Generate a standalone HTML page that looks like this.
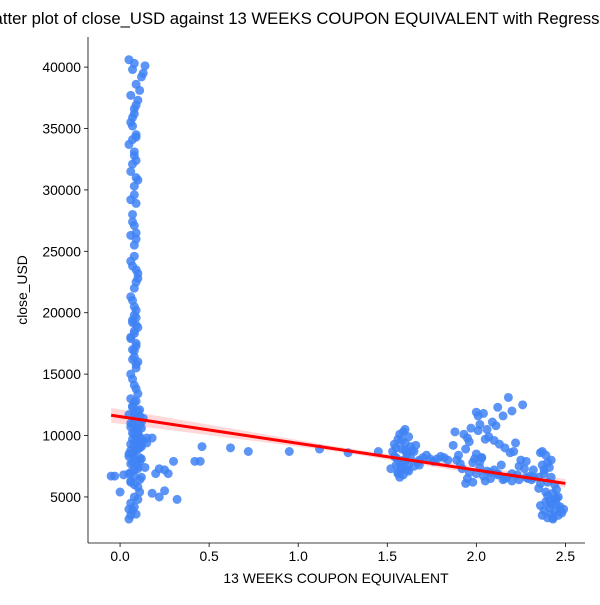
<!DOCTYPE html>
<html><head><meta charset="utf-8"><style>
body{margin:0;background:#fff}
svg text{font-family:"Liberation Sans","DejaVu Sans",sans-serif;fill:#000}
</style></head><body>
<svg id="chart" width="600" height="600" viewBox="0 0 600 600" xmlns="http://www.w3.org/2000/svg">
<rect width="600" height="600" fill="#fff"/>
<text x="316" y="24" font-size="16.7" text-anchor="middle">Scatter plot of close_USD against 13 WEEKS COUPON EQUIVALENT with Regression Line</text>
<g id="band"></g>
<g id="points"></g>
<g id="reg"></g>
<g id="axes"></g>
<text x="336" y="583" font-size="13.9" text-anchor="middle">13 WEEKS COUPON EQUIVALENT</text>
<text transform="translate(27,290) rotate(-90)" font-size="13.9" text-anchor="middle">close_USD</text>
</svg>
<script>
const xTicks=[0,0.5,1,1.5,2,2.5];
const xTickLabels=["0.0","0.5","1.0","1.5","2.0","2.5"];
const yTicks=[5000,10000,15000,20000,25000,30000,35000,40000];
const yTickLabels=["5000","10000","15000","20000","25000","30000","35000","40000"];
const regStart=[-0.05,11650];
const regEnd=[2.5,6100];
const bandHalfStart=600, bandHalfMid=200, bandHalfEnd=350;
const colX=[0.05,0.06,0.07,0.08,0.09,0.1,0.11,0.12,0.06,0.08,0.1,0.07,0.09,0.11,0.05,0.08,0.1,0.12,0.06,0.09,0.07,0.11,0.08,0.1,0.09,0.06,0.07,0.12,0.08,0.1,0.05,0.09,0.11,0.07,0.08,0.06,0.1,0.09,0.08,0.07,0.06,0.09,0.1,0.08,0.07,0.09,0.06,0.08,0.1,0.07,0.09,0.08,0.06,0.1,0.09,0.07,0.08,0.06,0.09,0.08,0.07,0.09,0.06,0.08,0.1,0.07,0.09,0.08,0.05,0.06,0.07,0.08,0.09,0.1,0.11,0.12,0.13,0.14,0.05,0.07,0.09,0.11,0.13,0.15,0.06,0.08,0.1,0.12,0.14,0.05,0.07,0.09,0.11,0.13,0.06,0.08,0.1,0.12,0.07,0.09,0.11,0.06,0.08,0.1,
0.09,0.07,0.08,0.09,0.06,0.08,0.09,0.07,0.08,0.09,0.07,0.08,0.09,0.1,0.06,0.08,0.09,0.07,0.08,0.09,0.06,0.08,0.09,0.07,0.08,0.06,0.09,0.07,0.08,0.05,0.06,0.08,0.1,0.12,0.07,0.09,0.11,0.06,0.08,0.1,0.05,0.07,0.09,0.11,0.06];
const colY=[3200,3500,3900,4200,3600,4800,6400,6600,7000,7200,7500,7800,8000,8200,8500,8700,8900,9100,9300,9500,9700,9900,10100,10300,10500,10700,10900,11100,11300,11500,11700,11900,12100,12400,12700,13000,13400,13800,14100,14600,15000,15500,16000,16400,17000,17500,17900,18300,18800,19200,19600,20500,21300,22800,23500,23800,24600,26300,26500,27100,27400,28900,29200,30300,30800,32100,32400,33100,33700,35500,35900,36600,36900,37300,38100,39200,39500,40100,40600,34100,34300,11600,9600,9400,8800,9200,10000,10600,7400,6900,8400,9800,10800,11400,7700,6700,9000,8100,12300,12800,5400,6200,6000,7300,
15800,16200,16900,17300,18000,18500,19000,19400,19800,20200,21000,22000,22500,23200,24200,25500,26000,28000,29600,31000,31500,32800,34500,35200,36200,37700,38600,39800,40300,4000,4500,5000,5800,9300,10200,10600,9000,11000,11800,12000,8300,8600,9500,7900,6300];
const sparseX=[-0.05,-0.03,0.0,0.02,0.15,0.18,0.18,0.2,0.22,0.22,0.25,0.25,0.27,0.3,0.32,0.42,0.45,0.46,0.62,0.72,0.95,1.12,1.28,1.45];
const sparseY=[6700,6700,5400,6800,9800,9800,5300,6900,7300,5000,5500,7200,6900,7900,4800,7900,7900,9100,9000,8700,8700,8900,8600,8700];
const c1X=[1.52,1.53,1.54,1.55,1.55,1.56,1.56,1.57,1.57,1.58,1.58,1.59,1.59,1.6,1.6,1.61,1.61,1.62,1.62,1.63,1.64,1.65,1.66,1.67,1.68,1.7,1.72,1.74,1.76,1.78,1.8,1.82,1.84,1.55,1.57,1.59,1.61,1.63,1.56,1.58,1.6,1.54,1.62,1.58,1.6,1.65,1.68];
const c1Y=[7300,8700,9300,7600,8200,9700,7000,10100,6600,8900,7400,10300,6800,9400,7900,8500,7200,9900,7600,8200,8800,7500,9200,7800,8000,8200,8400,8100,7900,8100,8300,8200,8000,9000,7700,8000,8600,9100,6900,9600,10500,8300,7100,7200,8800,8700,7600];
const c2X=[1.87,1.88,1.9,1.92,1.93,1.94,1.95,1.95,1.96,1.97,1.98,1.99,2.0,2.0,2.01,2.02,2.02,2.03,2.04,2.05,2.06,2.06,2.07,2.08,2.09,2.1,2.1,2.11,2.12,2.12,2.13,2.14,2.15,2.15,2.16,2.17,2.18,2.19,2.2,2.2,2.21,2.22,2.23,2.24,2.25,2.26,2.27,2.28,2.29,2.3,2.31,2.32,1.94,1.96,1.98,2.0,2.02,2.04,2.08,2.12,2.16,2.2,2.24,2.28,2.32,2.01,2.03,2.05,1.91,1.89];
const c2Y=[9200,10300,8400,7300,10100,6100,6500,9800,7000,10600,7800,8100,11900,6900,11600,7400,10900,8200,11800,6300,10500,7100,9900,6500,11100,9600,7200,10800,12300,6800,9300,7600,11600,6400,9000,6600,13100,8600,12000,6900,8700,9400,6800,7500,8000,12500,7300,7900,6500,6700,6400,6600,8900,9500,6200,8500,7900,6700,7000,6900,6500,6300,6400,6600,7200,10400,8200,9700,7700,8000];
const c3X=[2.35,2.36,2.36,2.37,2.37,2.38,2.38,2.39,2.39,2.4,2.4,2.41,2.41,2.42,2.42,2.43,2.43,2.44,2.44,2.45,2.45,2.46,2.46,2.47,2.48,2.49,2.36,2.38,2.4,2.42,2.44,2.37,2.39,2.41,2.43,2.35,2.45,2.47,2.4,2.42];
const c3Y=[5700,8600,4300,7600,3500,6900,3900,8400,4600,6200,3300,7400,4100,6600,3600,5300,3200,4800,3800,5600,4400,5000,3500,4200,3700,4000,6100,7200,5100,8000,6000,8700,5400,4700,3300,6600,4900,3900,7800,4400];
const W=600,ML=88,MR=585,MT=37,MB=543;
const xMin=-0.18,xMax=2.61,yMin=1250,yMax=42450;
const sx=v=>ML+(v-xMin)/(xMax-xMin)*(MR-ML);
const sy=v=>MB-(v-yMin)/(yMax-yMin)*(MB-MT);
const NS="http://www.w3.org/2000/svg";
function mk(tag,attrs,parent){const e=document.createElementNS(NS,tag);for(const k in attrs)e.setAttribute(k,attrs[k]);parent.appendChild(e);return e;}
const band=document.getElementById('band');
const f=x=>regStart[1]+(x-regStart[0])*(regEnd[1]-regStart[1])/(regEnd[0]-regStart[0]);
const hw=x=>{const t=(x-regStart[0])/(regEnd[0]-regStart[0]);return t<0.5?bandHalfStart+(bandHalfMid-bandHalfStart)*t*2:bandHalfMid+(bandHalfEnd-bandHalfMid)*(t-0.5)*2;};
let up=[],dn=[];
for(let i=0;i<=20;i++){const x=regStart[0]+(regEnd[0]-regStart[0])*i/20;up.push(sx(x)+','+sy(f(x)+hw(x)));dn.unshift(sx(x)+','+sy(f(x)-hw(x)));}
const bp=mk('polygon',{points:up.concat(dn).join(' '),fill:'#ff0000','fill-opacity':'0.15',stroke:'none'},band);


const pts=document.getElementById('points');
const allX=colX.concat(sparseX,c1X,c2X,c3X), allY=colY.concat(sparseY,c1Y,c2Y,c3Y);
for(let i=0;i<allX.length;i++){
 const c=mk('circle',{cx:sx(allX[i]),cy:sy(allY[i]),r:4.5,fill:'#3f82f5','fill-opacity':'0.85'},pts);
 
 
}
const rl=mk('line',{x1:sx(regStart[0]),y1:sy(regStart[1]),x2:sx(regEnd[0]),y2:sy(regEnd[1]),stroke:'#ff0000','stroke-width':3},document.getElementById('reg'));


const ax=document.getElementById('axes');
const la=mk('line',{x1:ML,y1:MT,x2:ML,y2:MB,stroke:'#000','stroke-width':0.8},ax);


const ba=mk('line',{x1:ML,y1:MB,x2:MR,y2:MB,stroke:'#000','stroke-width':0.8},ax);


xTicks.forEach((v,i)=>{const x=sx(v);
 const t=mk('line',{x1:x,y1:MB,x2:x,y2:MB+4,stroke:'#000','stroke-width':0.8},ax);
 
 
 const l=mk('text',{x:x,y:MB+18,'font-size':13.9,'text-anchor':'middle'},ax);l.textContent=xTickLabels[i];
 
 
});
yTicks.forEach((v,i)=>{const y=sy(v);
 const t=mk('line',{x1:ML-4,y1:y,x2:ML,y2:y,stroke:'#000','stroke-width':0.8},ax);
 
 
 const l=mk('text',{x:ML-7,y:y+5,'font-size':13.9,'text-anchor':'end'},ax);l.textContent=yTickLabels[i];
 
 
});
</script>
</body></html>
